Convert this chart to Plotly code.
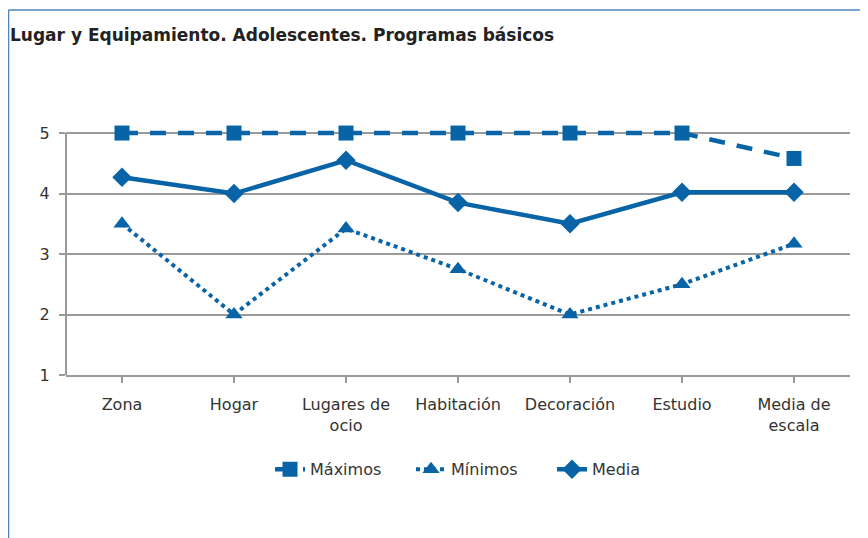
import plotly.graph_objects as go

# Datos
categorias = ["Zona", "Hogar", "Lugares de<br>ocio", "Habitación", "Decoración", "Estudio", "Media de<br>escala"]
maximos = [5, 5, 5, 5, 5, 5, 4.58]
minimos = [3.5, 2, 3.42, 2.75, 2, 2.5, 3.17]
media = [4.27, 4.0, 4.55, 3.85, 3.5, 4.02, 4.02]

azul = "#0864a6"
gris = "#9a9a9a"
texto = "#333333"

fig = go.Figure()

fig.add_trace(go.Scatter(
    x=categorias, y=maximos, name="Máximos", mode="lines+markers",
    line=dict(color=azul, width=4.5, dash="16px,12px"),
    marker=dict(symbol="square", size=15, color=azul),
    cliponaxis=False,
))
fig.add_trace(go.Scatter(
    x=categorias, y=minimos, name="Mínimos", mode="lines+markers",
    line=dict(color=azul, width=4, dash="4px,4px"),
    marker=dict(symbol="triangle-up", size=15, color=azul),
    cliponaxis=False,
))
fig.add_trace(go.Scatter(
    x=categorias, y=media, name="Media", mode="lines+markers",
    line=dict(color=azul, width=4.5),
    marker=dict(symbol="diamond", size=15, color=azul),
    cliponaxis=False,
))

# Eje vertical dibujado sólo hasta 5
fig.add_shape(type="line", xref="paper", yref="y", x0=0, x1=0, y0=1, y1=5,
              line=dict(color=gris, width=2), layer="below")

# Marco del gráfico (línea superior e izquierda)
fig.add_shape(type="line", xref="paper", yref="paper",
              x0=-0.0733, x1=1.04, y0=1.472, y1=1.472,
              line=dict(color="#4f86bd", width=1.5))
fig.add_shape(type="line", xref="paper", yref="paper",
              x0=-0.0733, x1=-0.0733, y0=1.472, y1=-0.70,
              line=dict(color="#4f86bd", width=1.5))

fig.update_layout(
    width=868, height=538,
    margin=dict(l=58, r=26, t=119, b=171),
    paper_bgcolor="white", plot_bgcolor="white",
    font=dict(family="DejaVu Sans, Arial, sans-serif", size=16, color=texto),
    title=dict(
        text="<b>Lugar y Equipamiento. Adolescentes. Programas básicos</b>",
        xref="container", yref="container", x=2 / 868, xanchor="left",
        y=1 - 27 / 538, yanchor="middle",
        font=dict(size=17, color="#222222"),
    ),
    showlegend=True,
    legend=dict(orientation="h", x=0.53, xanchor="center", y=-0.38, yanchor="middle",
                font=dict(size=16, color=texto), traceorder="normal", entrywidth=96),
)

fig.update_xaxes(
    range=[-0.5, 6.5], showline=True, linecolor=gris, linewidth=2,
    showgrid=False, ticks="outside", tickcolor=gris, ticklen=6, tickwidth=1.5,
    ticklabelstandoff=8, tickfont=dict(size=16, color=texto), fixedrange=True,
)
fig.update_yaxes(
    range=[1, 5.1], tickvals=[1, 2, 3, 4, 5], showline=False,
    showgrid=True, gridcolor=gris, gridwidth=2, zeroline=False,
    ticks="outside", tickcolor=gris, ticklen=6, tickwidth=1.5,
    ticklabelstandoff=6, tickfont=dict(size=16, color=texto), fixedrange=True,
)

fig.write_html("out.html")
